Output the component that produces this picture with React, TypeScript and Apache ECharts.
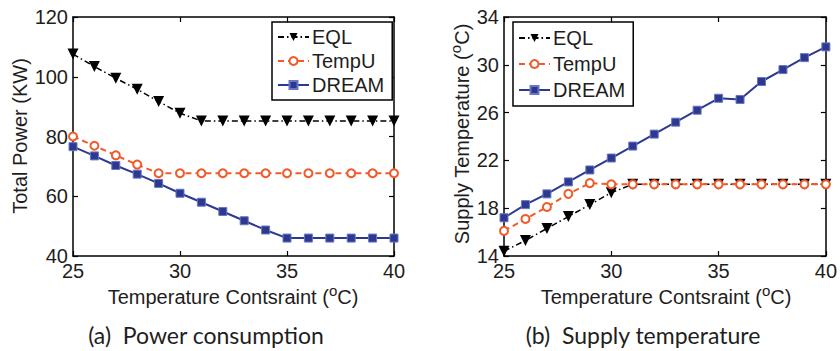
import React, { useEffect, useRef } from "react";
import * as echarts from "echarts";

const temps = [25, 26, 27, 28, 29, 30, 31, 32, 33, 34, 35, 36, 37, 38, 39, 40];
const seriesNames = ["EQL", "TempU", "DREAM"];

const powerEQL = [107.6, 103.4, 99.5, 95.8, 91.7, 87.8, 85.2, 85.2, 85.2, 85.2, 85.2, 85.2, 85.2, 85.2, 85.2, 85.2];
const powerTempU = [80.0, 76.9, 73.7, 70.6, 67.7, 67.7, 67.7, 67.7, 67.7, 67.7, 67.7, 67.7, 67.7, 67.7, 67.7, 67.7];
const powerDREAM = [76.6, 73.5, 70.3, 67.4, 64.3, 61.0, 58.0, 54.9, 51.8, 48.7, 46.0, 46.0, 46.0, 46.0, 46.0, 46.0];

const supplyEQL = [14.4, 15.3, 16.3, 17.3, 18.3, 19.3, 20.0, 20.0, 20.0, 20.0, 20.0, 20.0, 20.0, 20.0, 20.0, 20.0];
const supplyTempU = [16.1, 17.1, 18.1, 19.2, 20.1, 20.0, 20.0, 20.0, 20.0, 20.0, 20.0, 20.0, 20.0, 20.0, 20.0, 20.0];
const supplyDREAM = [17.2, 18.3, 19.2, 20.2, 21.2, 22.2, 23.2, 24.2, 25.2, 26.2, 27.2, 27.1, 28.6, 29.6, 30.6, 31.5];

const xRange = { min: 25, max: 40, interval: 5 };
const powerRange = { min: 40, max: 120, interval: 20 };
const supplyRange = { min: 14, max: 34, interval: 4 };

const xTitle = "{n|Temperature Contsraint (}{sup|o}{n|C)}";
const powerTitle = "Total Power (KW)";
const supplyTitle = "{n|Supply Temperature (}{sup|o}{n|C)}";
const captionA = "(a)  Power consumption";
const captionB = "(b)  Supply temperature";

export default function App() {
  const ref = useRef<HTMLDivElement>(null);
  useEffect(() => {
    document.body.style.margin = "0";
    const chart = echarts.init(ref.current!, null, { renderer: "svg" });
    const FONT = "Liberation Sans, Arial, Helvetica, sans-serif";
    const CAP_FONT = "Lato, Open Sans, sans-serif";
    const TXT = "#1e1e1e";
    const FS = 20;
    const pairs = (ys: number[]) => temps.map((t, i) => [t, ys[i]]);

    const mkAxis = (range: any, gridIndex: number, position: string, labels: boolean) => ({
      type: "value",
      gridIndex,
      position,
      min: range.min,
      max: range.max,
      interval: range.interval,
      axisLine: { show: true, onZero: false, lineStyle: { color: "#000", width: 1.5 } },
      axisTick: { show: true, inside: true, length: 5, lineStyle: { color: "#000", width: 1.2 } },
      axisLabel: { show: labels, color: TXT, fontFamily: FONT, fontSize: FS, margin: 5 },
      splitLine: { show: false },
    });

    const styles: any = {
      EQL: {
        symbol: "triangle",
        symbolRotate: 180,
        symbolSize: 11,
        itemStyle: { color: "#000" },
        lineStyle: { color: "#000", width: 1.5, type: [6, 3, 1.5, 3] },
      },
      TempU: {
        symbol: "emptyCircle",
        symbolSize: 8,
        itemStyle: { color: "#F15A29", borderColor: "#F15A29", borderWidth: 2 },
        lineStyle: { color: "#F15A29", width: 2, type: [6, 4] },
      },
      DREAM: {
        symbol: "rect",
        symbolSize: 8,
        itemStyle: { color: "#2B3990", borderColor: "#6B76C2", borderWidth: 1 },
        lineStyle: { color: "#2B3990", width: 2, type: "solid" },
      },
    };

    const mkSeries = (name: string, ys: number[], idx: number) => ({
      name,
      type: "line",
      xAxisIndex: idx * 2,
      yAxisIndex: idx * 2,
      data: pairs(ys),
      ...styles[name],
    });

    const mkLegend = (left: number, gap: number, padTop: number) => ({
      data: seriesNames,
      orient: "vertical",
      left,
      top: 22,
      itemWidth: 31,
      itemHeight: 10,
      itemGap: gap,
      padding: [padTop, 8, padTop, 5],
      borderColor: "#000",
      borderWidth: 1.5,
      backgroundColor: "#fff",
      selectedMode: false,
      textStyle: { color: TXT, fontFamily: FONT, fontSize: FS, lineHeight: 19, padding: [0, 0, 0, -2] },
    });

    const supRich = {
      n: { fontFamily: FONT, fontSize: FS, fill: TXT, verticalAlign: "middle" },
      sup: { fontFamily: FONT, fontSize: 15, verticalAlign: "top", fill: TXT, padding: [0, 0, 14, 0] },
    };

    const option: any = {
      animation: false,
      backgroundColor: "#fff",
      grid: [
        { left: 73, top: 17, width: 321, height: 239 },
        { left: 504, top: 17, width: 325, height: 239 },
      ],
      xAxis: [
        mkAxis(xRange, 0, "bottom", true),
        mkAxis(xRange, 0, "top", false),
        mkAxis(xRange, 1, "bottom", true),
        mkAxis(xRange, 1, "top", false),
      ],
      yAxis: [
        mkAxis(powerRange, 0, "left", true),
        mkAxis(powerRange, 0, "right", false),
        mkAxis(supplyRange, 1, "left", true),
        mkAxis(supplyRange, 1, "right", false),
      ],
      legend: [mkLegend(272, 4, 5), mkLegend(513, 6, 6)],
      series: [
        mkSeries("EQL", powerEQL, 0),
        mkSeries("TempU", powerTempU, 0),
        mkSeries("DREAM", powerDREAM, 0),
        mkSeries("EQL", supplyEQL, 1),
        mkSeries("TempU", supplyTempU, 1),
        mkSeries("DREAM", supplyDREAM, 1),
      ],
      graphic: [
        {
          type: "text",
          x: 20,
          y: 136,
          rotation: Math.PI / 2,
          style: { text: powerTitle, fontFamily: FONT, fontSize: FS, fill: TXT, align: "center", verticalAlign: "middle" },
        },
        {
          type: "text",
          x: 462,
          y: 134,
          rotation: Math.PI / 2,
          style: { text: supplyTitle, fontFamily: FONT, fontSize: FS, fill: TXT, align: "center", verticalAlign: "middle", rich: supRich },
        },
        {
          type: "text",
          x: 233,
          y: 297,
          style: { text: xTitle, fontFamily: FONT, fontSize: FS, fill: TXT, align: "center", verticalAlign: "middle", rich: supRich },
        },
        {
          type: "text",
          x: 666,
          y: 297,
          style: { text: xTitle, fontFamily: FONT, fontSize: FS, fill: TXT, align: "center", verticalAlign: "middle", rich: supRich },
        },
        {
          type: "text",
          x: 206,
          y: 335,
          style: { text: captionA, fontFamily: CAP_FONT, fontSize: 23, fill: TXT, align: "center", verticalAlign: "middle" },
        },
        {
          type: "text",
          x: 643,
          y: 335,
          style: { text: captionB, fontFamily: CAP_FONT, fontSize: 23, fill: TXT, align: "center", verticalAlign: "middle" },
        },
      ],
    };
    chart.setOption(option);
    return () => chart.dispose();
  }, []);
  return <div ref={ref} style={{ width: 840, height: 351 }} />;
}
